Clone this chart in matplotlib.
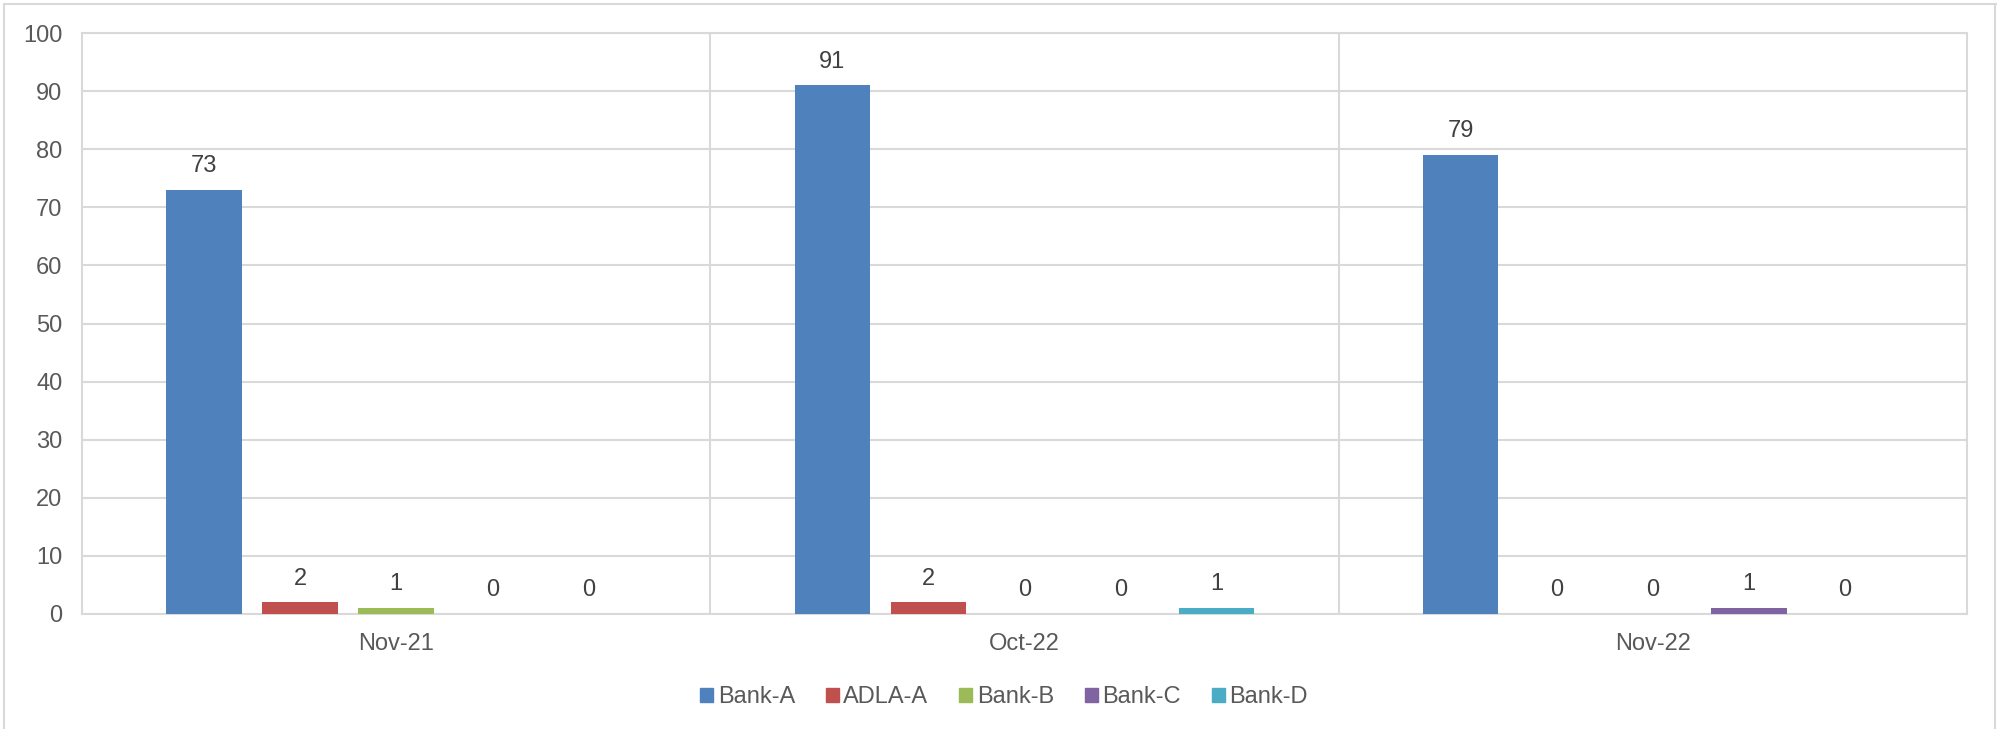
import matplotlib.pyplot as plt
import numpy as np
from matplotlib.patches import Rectangle
from matplotlib.lines import Line2D

plt.rcParams['font.family'] = ['Liberation Sans', 'DejaVu Sans']

months = ['Nov-21', 'Oct-22', 'Nov-22']
banks = ['Bank-A', 'ADLA-A', 'Bank-B', 'Bank-C', 'Bank-D']
bank_a = [73, 91, 79]
adla_a = [2, 2, 0]
bank_b = [1, 0, 0]
bank_c = [0, 0, 1]
bank_d = [0, 1, 0]
colors = ['#4F81BD', '#C0504D', '#9BBB59', '#8064A2', '#4BACC6']

series = [bank_a, adla_a, bank_b, bank_c, bank_d]

W, H = 1997, 729
fig = plt.figure(figsize=(W / 100, H / 100), dpi=100)
ax = fig.add_axes([82 / W, (H - 614) / H, 1885 / W, 581 / H])

grid_col = '#D9D9D9'
fs = 17
x = np.arange(len(months))
step = 0.153
width = 0.12
for i, (vals, name, c) in enumerate(zip(series, banks, colors)):
    pos = x + (i - 2) * step
    ax.bar(pos, vals, width=width, color=c, label=name, zorder=3)
    for px, v in zip(pos, vals):
        ax.text(px, v + 2.2, str(v), ha='center', va='bottom',
                fontsize=fs, color='#404040', zorder=4)

ax.set_xlim(-0.5, 2.5)
ax.set_ylim(0, 100)
ax.set_yticks(range(0, 101, 10))
ax.set_xticks(x)
ax.set_xticklabels(months)
ax.tick_params(axis='both', length=0, labelsize=fs, labelcolor='#595959')
ax.tick_params(axis='y', pad=14)
ax.tick_params(axis='x', pad=14)
ax.yaxis.grid(True, color=grid_col, linewidth=1.5, zorder=0)
for b in [0.5, 1.5]:
    ax.axvline(b, color=grid_col, linewidth=1.5, zorder=0)
for s in ax.spines.values():
    s.set_color(grid_col)
    s.set_linewidth(1.5)

# legend with small square swatches
handles = [Rectangle((0, 0), 1, 1, color=c) for c in colors]
fig.legend(handles, banks, loc='center', bbox_to_anchor=(1004 / W, 1 - 697 / H),
           ncol=5, frameon=False, fontsize=fs, labelcolor='#595959',
           handlelength=0.55, handleheight=0.55, handletextpad=0.2, columnspacing=1.3)

# outer chart border
fig.add_artist(Line2D([4 / W, 4 / W], [0, 1 - 4 / H], color=grid_col, lw=1.5))
fig.add_artist(Line2D([4 / W, 1996 / W], [1 - 4 / H, 1 - 4 / H], color=grid_col, lw=1.5))
fig.add_artist(Line2D([1995 / W, 1995 / W], [0, 1 - 4 / H], color=grid_col, lw=1.5))

fig.savefig('out.png', dpi=100)
